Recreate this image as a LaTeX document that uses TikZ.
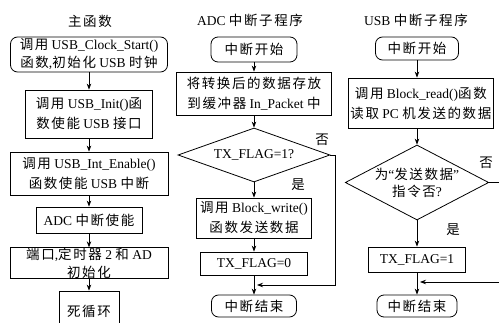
\documentclass[tikz,border=0pt]{standalone}
\usepackage{fontspec}
\setmainfont{Liberation Serif}
\newfontfamily\cjk[LetterSpace=12]{Noto Sans CJK SC}
\newcommand{\zh}[1]{{\cjk #1}}
\usetikzlibrary{positioning, arrows.meta, shapes.geometric}

\begin{document}
\begin{tikzpicture}[x=1pt, y=-1pt, font=\fontsize{13.5}{20}\selectfont]
    \tikzstyle{block} = [rectangle, draw, align=center, inner xsep=2pt, inner ysep=0pt, line width=0.8pt]
    \tikzstyle{term} = [block, rounded corners=7pt]
    \tikzstyle{decision} = [diamond, draw, align=center, inner sep=0pt, aspect=2, line width=0.8pt]
    \tikzstyle{arrow} = [line width=0.8pt, ->, >={Stealth[length=6pt,width=4.5pt]}]

    \useasboundingbox (0,0) rectangle (499,323);

    % titles
    \node (tmain) at (90,21) {\zh{主函数}};
    \node (tadc) at (250,20) {ADC \zh{中断子程序}};
    \node (tusb) at (416,20) {USB \zh{中断子程序}};

    % main program
    \node [term, minimum width=157pt, minimum height=35pt] (m1) at (89,54.5) {\zh{调用} USB\_Clock\_Start()\\[-2pt] \zh{函数},\zh{初始化} USB \zh{时钟}};
    \node [block, minimum width=127pt, minimum height=48pt] (m2) at (89,114) {\zh{调用} USB\_Init()\zh{函}\\ \zh{数使能} USB \zh{接口}};
    \node [block, minimum width=158pt, minimum height=43pt] (m3) at (89,173.5) {\zh{调用} USB\_Int\_Enable()\\ \zh{函数使能} USB \zh{中断}};
    \node [block, minimum width=106pt, minimum height=26pt] (m4) at (89,220) {ADC \zh{中断使能}};
    \node [block, minimum width=158pt, minimum height=30pt, font=\fontsize{13.5}{18}\selectfont] (m5) at (89,263) {\zh{端口},\zh{定时器} 2 \zh{和} AD\\ \zh{初始化}};
    \node [block, minimum width=60pt, minimum height=40pt] (m6) at (89,311) {\zh{死循环}};

    \draw [arrow] (m1) -- (m2);
    \draw [arrow] (m2) -- (m3);
    \draw [arrow] (m3) -- (m4);
    \draw [arrow] (m4) -- (m5);
    \draw [arrow] (m5) -- (m6);

    % ADC interrupt
    \node [term, minimum width=86pt, minimum height=25pt] (a0) at (254,49.5) {\zh{中断开始}};
    \node [block, minimum width=155pt, minimum height=43pt] (a1) at (254,93.5) {\zh{将转换后的数据存放}\\ \zh{到缓冲器} In\_Packet \zh{中}};
    \node [decision, minimum width=152pt, minimum height=54pt] (d1) at (254,155) {TX\_FLAG=1?};
    \node [block, minimum width=115pt, minimum height=40pt] (a2) at (254,218) {\zh{调用} Block\_write()\\ \zh{函数发送数据}};
    \node [block, minimum width=107pt, minimum height=23pt] (a3) at (254,263.5) {TX\_FLAG=0};
    \node [term, minimum width=85pt, minimum height=22pt] (a4) at (254,306) {\zh{中断结束}};
    \coordinate (ja) at (254,285);

    \draw [arrow] (a0) -- (a1);
    \draw [arrow] (a1) -- (d1);
    \draw [arrow] (d1) -- (a2);
    \draw [arrow] (a2) -- (a3);
    \draw [arrow] (a3) -- (a4);
    \draw [arrow, shorten >=3pt] (d1.east) -- ++(5,0) |- (ja);
    \node (no1) at (322,140) {\zh{否}};
    \node (yes1) at (298,185) {\zh{是}};

    % USB interrupt
    \node [term, minimum width=83pt, minimum height=23pt] (u0) at (417,48.5) {\zh{中断开始}};
    \node [block, anchor=west, minimum height=50pt] (u1) at (348,103) {\zh{调用} Block\_read()\zh{函数}\\ \zh{读取} PC \zh{机发送的数据}};
    \node [decision, minimum width=132pt, minimum height=75pt] (d2) at (417,182.5) {\zh{为}“\zh{发送数据}”\\[-3pt] \zh{指令否}?};
    \node [block, minimum width=97pt, minimum height=25pt] (u2) at (417,259.5) {TX\_FLAG=1};
    \node [term, minimum width=80pt, minimum height=22pt] (u3) at (417,306) {\zh{中断结束}};
    \coordinate (ju) at (417,282);

    \draw [arrow] (u0) -- (u0 |- u1.north);
    \draw [arrow] (d2 |- u1.south) -- (d2);
    \draw [arrow] (d2) -- (u2);
    \draw [arrow] (u2) -- (u3);
    \draw [arrow, shorten >=3pt] (d2.east) -- ++(14.5,0) |- (ju);
    \node (no2) at (486,163) {\zh{否}};
    \node (yes2) at (453,230) {\zh{是}};
\end{tikzpicture}
\end{document}
